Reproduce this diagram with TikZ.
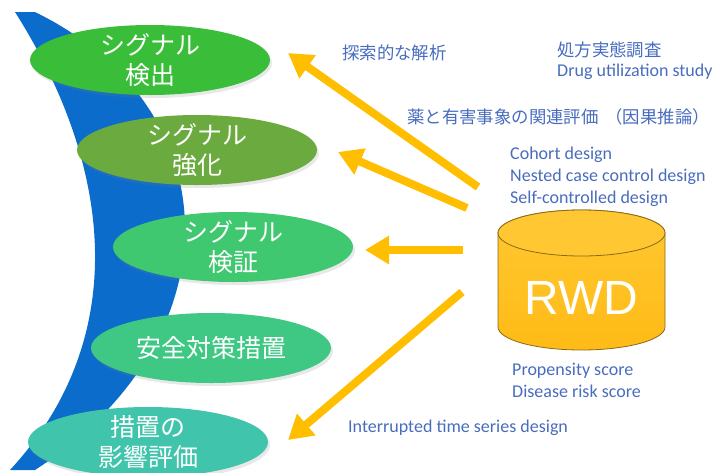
\documentclass[tikz,border=0pt]{standalone}
\usepackage{fontspec}
\setmainfont{Carlito}
\newfontfamily\jpfont{Noto Sans CJK JP}
\newfontfamily\rwdfont{Liberation Sans}
\usepackage{tikz}
\usetikzlibrary{shapes.geometric, arrows.meta, positioning, shadows}

\definecolor{bandblue}{RGB}{12,108,204}
\definecolor{detectgreen}{RGB}{58,190,58}
\definecolor{refinegreen}{RGB}{106,170,62}
\definecolor{verifygreen}{RGB}{64,200,112}
\definecolor{measuregreen}{RGB}{62,200,132}
\definecolor{impactteal}{RGB}{64,196,172}
\definecolor{arrowgold}{RGB}{255,190,0}
\definecolor{cylgold}{RGB}{255,192,24}
\definecolor{cyltop}{RGB}{255,200,50}
\definecolor{cylrim}{RGB}{140,105,20}
\definecolor{textblue}{RGB}{72,108,190}

\begin{document}
\begin{tikzpicture}[
    x=1pt, y=-1pt,
    stage/.style={ellipse, inner sep=0pt, minimum width=240pt, minimum height=70pt,
        drop shadow={opacity=0.18, shadow xshift=2pt, shadow yshift=-3pt}},
    stagetext/.style={text=white, align=center, font=\jpfont\fontsize{25}{30}\selectfont},
    flow/.style={-{Triangle[length=24pt, width=27pt]}, line width=8pt, arrowgold},
    method/.style={text=textblue, anchor=west, inner sep=0pt, align=left, font=\fontsize{18}{22}\selectfont},
    methodjp/.style={text=textblue, anchor=west, inner sep=0pt, font=\jpfont\fontsize{17.4}{22}\selectfont}
]
\useasboundingbox (0,0) rectangle (715,472);
\clip (0,0) rectangle (715,472);

% Blue band behind the stages
\fill[bandblue] (15,12) .. controls (115,170) and (130,340) .. (10,470)
    -- (35,470) .. controls (235,340) and (235,110) .. (35,12) -- cycle;

% Stages (left side)
\node[stage, fill=detectgreen, label={[stagetext]center:シグナル\\検出}] (detect) at (150,60) {};
\node[stage, fill=refinegreen, label={[stagetext]center:シグナル\\強化}] (refine) at (197,150) {};
\node[stage, fill=verifygreen, label={[stagetext]center:シグナル\\検証}] (verify) at (233,247) {};
\node[stage, fill=measuregreen, label={[stagetext]center:安全対策措置}] (measure) at (211,348) {};
\node[stage, fill=impactteal, label={[stagetext]center:措置の\\影響評価}] (impact) at (148,442) {};

% RWD database (right side)
\shade[top color=cyltop, bottom color=cylgold!92!orange, draw=cylrim, line width=0.8pt]
    (498,233) -- (498,327) arc (180:360:83.5pt and 23pt) -- (665,233) arc (0:180:83.5pt and 23pt) -- cycle;
\draw[fill=cyltop, draw=cylrim, line width=0.8pt] (581.5,233) ellipse (83.5pt and 23pt);
\node[text=white, font=\rwdfont\fontsize{48}{50}\selectfont] (rwd) at (581.5,298) {RWD};

% Arrow ends
\coordinate (explore tail) at (478,187);
\coordinate (explore head) at (288,53);
\coordinate (causal tail) at (467,208);
\coordinate (causal head) at (338,152);
\coordinate (verify tail) at (463,250);
\coordinate (verify head) at (365,250);
\coordinate (its tail) at (462,292);
\coordinate (its head) at (288,440);

% Arrows from RWD to the stages
\draw[flow] (explore tail) -- (explore head);
\draw[flow] (causal tail) -- (causal head);
\draw[flow] (verify tail) -- (verify head);
\draw[flow] (its tail) -- (its head);

% Method labels
\node[methodjp] (explore) at (342,53) {探索的な解析};
\node[methodjp] (dus) at (557,50) {処方実態調査};
\node[method] (dusen) at (557,72) {Drug utilization study};
\node[methodjp] (causal) at (407,117) {薬と有害事象の関連評価\hspace{0.4em}（因果推論）};
\node[method] (designs) at (510,177) {Cohort design\\Nested case control design\\Self-controlled design};
\node[method] (scores) at (512,380) {Propensity score\\Disease risk score};
\node[method] (its) at (348,428) {Interrupted time series design};

\end{tikzpicture}
\end{document}
